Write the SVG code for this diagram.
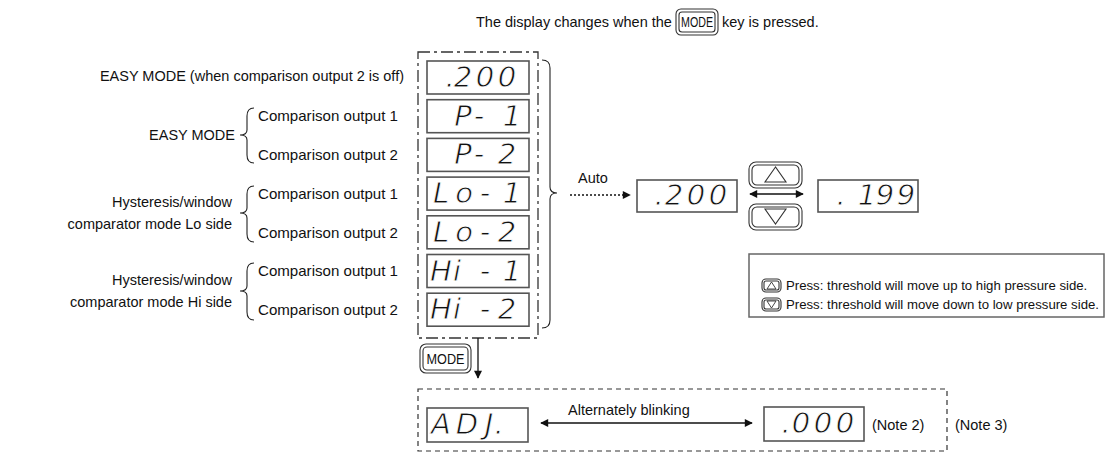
<svg xmlns="http://www.w3.org/2000/svg" width="1112" height="461" viewBox="0 0 1112 461">
<defs>
<style>
.t{font-family:"Liberation Sans",Arial,sans-serif;font-size:14.5px;fill:#111}
.c{font-family:"Liberation Sans",Arial,sans-serif;font-size:14.5px;fill:#111}
.k{font-family:"Liberation Sans",Arial,sans-serif;font-size:14px;fill:#111;text-anchor:middle}
.seg{font-family:"DejaVu Sans",sans-serif;font-size:29px;font-style:oblique;fill:#111;stroke:#fff;stroke-width:0.8;text-anchor:middle}
.box{fill:#fff;stroke:#555;stroke-width:1.6}
.ln{stroke:#111;stroke-width:1.3;fill:none}
.br{stroke:#222;stroke-width:1.1;fill:none}
.key{fill:#fff;stroke:#333;stroke-width:1.1}
.lg{font-family:"Liberation Sans",Arial,sans-serif;font-size:13.2px;fill:#111}
</style>
<marker id="ah" viewBox="0 0 10 10" refX="9" refY="5" markerWidth="10" markerHeight="8" markerUnits="userSpaceOnUse" orient="auto-start-reverse">
<path d="M0,0 L10,5 L0,10 z" fill="#111"/>
</marker>
<g id="keyshape">
<rect x="0" y="0" width="53" height="26" rx="7" class="key"/>
<rect x="3" y="3" width="47" height="20" rx="5" class="key"/>
</g>
</defs>

<g id="title">
<text class="t" x="476" y="27">The display changes when the</text>
<g id="mode-key-top">
<rect x="676" y="9" width="42" height="26" rx="5" class="key"/>
<rect x="679" y="12" width="36" height="20" rx="3" class="key"/>
<text class="k" x="697" y="27" textLength="32" lengthAdjust="spacingAndGlyphs">MODE</text>
</g>
<text class="t" x="722" y="27">key is pressed.</text>
</g>

<g id="labels">
<text class="t" x="404" y="81" text-anchor="end">EASY MODE (when comparison output 2 is off)</text>
<text class="t" x="235" y="140" text-anchor="end">EASY MODE</text>
<text class="c" x="258" y="121" textLength="140" lengthAdjust="spacingAndGlyphs">Comparison output 1</text>
<text class="c" x="258" y="160" textLength="140" lengthAdjust="spacingAndGlyphs">Comparison output 2</text>
<text class="t" x="232" y="207" text-anchor="end">Hysteresis/window</text>
<text class="t" x="232" y="229" text-anchor="end">comparator mode Lo side</text>
<text class="c" x="258" y="199" textLength="140" lengthAdjust="spacingAndGlyphs">Comparison output 1</text>
<text class="c" x="258" y="238" textLength="140" lengthAdjust="spacingAndGlyphs">Comparison output 2</text>
<text class="t" x="232" y="285" text-anchor="end">Hysteresis/window</text>
<text class="t" x="232" y="307" text-anchor="end">comparator mode Hi side</text>
<text class="c" x="258" y="276" textLength="140" lengthAdjust="spacingAndGlyphs">Comparison output 1</text>
<text class="c" x="258" y="315" textLength="140" lengthAdjust="spacingAndGlyphs">Comparison output 2</text>
<path class="br" d="M254,108 Q247,108 247,116 L247,130 Q247,135 240,135 Q247,135 247,140 L247,155 Q247,163 254,163"/>
<path class="br" d="M254,186 Q247,186 247,194 L247,208 Q247,213 240,213 Q247,213 247,218 L247,234 Q247,242 254,242"/>
<path class="br" d="M254,263 Q247,263 247,271 L247,286 Q247,291 240,291 Q247,291 247,296 L247,312 Q247,320 254,320"/>
</g>

<g id="display-column">
<rect x="418" y="52" width="120" height="286" fill="none" stroke="#333" stroke-width="1.3" stroke-dasharray="12 4 3 4"/>
<g id="d-200">
<rect class="box" x="427" y="61" width="102" height="33"/>
<text class="seg" x="450 463 485 507" y="87">.200</text>
</g>
<g id="d-p1">
<rect class="box" x="427" y="99.7" width="102" height="33"/>
<text class="seg" x="463 479 512" y="125.7">P-1</text>
</g>
<g id="d-p2">
<rect class="box" x="427" y="138.4" width="102" height="33"/>
<text class="seg" x="463 479 507" y="164.4">P-2</text>
</g>
<g id="d-lo1">
<rect class="box" x="427" y="177.1" width="102" height="33"/>
<text class="seg" x="441 464 485 512" y="203.1">Lo-1</text>
</g>
<g id="d-lo2">
<rect class="box" x="427" y="215.8" width="102" height="33"/>
<text class="seg" x="441 464 485 507" y="241.8">Lo-2</text>
</g>
<g id="d-hi1">
<rect class="box" x="427" y="254.5" width="102" height="33"/>
<text class="seg" x="441 457 485 512" y="280.5">Hi-1</text>
</g>
<g id="d-hi2">
<rect class="box" x="427" y="293.2" width="102" height="33"/>
<text class="seg" x="441 457 485 507" y="319.2">Hi-2</text>
</g>
</g>

<g id="brace-right">
<path class="br" d="M542,60 Q550,60 550,68 L550,187 Q550,193 557,193 Q550,193 550,199 L550,320 Q550,328 542,328"/>
</g>

<g id="auto-display">
<rect class="box" x="637" y="180" width="100" height="32"/>
<text class="seg" x="659 674 696 718" y="205">.200</text>
</g>

<g id="up-key">
<use href="#keyshape" x="749" y="162"/>
<path d="M775.5,167 L765,182 L786,182 z" fill="none" stroke="#333" stroke-width="1.1"/>
</g>
<g id="down-key">
<use href="#keyshape" x="749" y="204"/>
<path d="M765,209 L786,209 L775.5,224 z" fill="none" stroke="#333" stroke-width="1.1"/>
</g>

<g id="display-199">
<rect class="box" x="818" y="180" width="100" height="32"/>
<text class="seg" x="841 867 885 906" y="205">.199</text>
</g>

<g id="legend">
<rect x="749" y="254" width="355" height="63" fill="#fff" stroke="#666" stroke-width="1.5"/>
<g id="legend-up">
<rect x="762" y="279" width="19" height="13" rx="4" class="key"/>
<rect x="764" y="281" width="15" height="9" rx="2" class="key"/>
<path d="M771.5,282 L767,289 L776,289 z" fill="none" stroke="#333" stroke-width="0.9"/>
</g>
<g id="legend-down">
<rect x="762" y="298" width="19" height="13" rx="4" class="key"/>
<rect x="764" y="300" width="15" height="9" rx="2" class="key"/>
<path d="M767,301 L776,301 L771.5,308 z" fill="none" stroke="#333" stroke-width="0.9"/>
</g>
<text class="lg" x="786" y="290">Press: threshold will move up to high pressure side.</text>
<text class="lg" x="786" y="309">Press: threshold will move down to low pressure side.</text>
</g>

<g id="adjust-box">
<rect x="418" y="389" width="529" height="62" fill="none" stroke="#333" stroke-width="1.2" stroke-dasharray="5 4"/>
<g id="d-adj">
<rect class="box" x="427" y="408" width="101" height="34"/>
<text class="seg" x="441 467 489 499" y="434">ADJ.</text>
</g>
<text class="t" x="568" y="415">Alternately blinking</text>
<g id="d-000">
<rect class="box" x="764" y="407" width="100" height="34"/>
<text class="seg" x="786 801 823 845" y="433">.000</text>
</g>
<text class="t" x="872" y="430">(Note 2)</text>
</g>
<text class="t" x="955" y="430">(Note 3)</text>

<g id="mode-key-bottom">
<rect x="420" y="344" width="51" height="29" rx="6" class="key"/>
<rect x="423" y="347" width="45" height="23" rx="4" class="key"/>
<text class="k" x="445.5" y="364" textLength="38" lengthAdjust="spacingAndGlyphs">MODE</text>
</g>

<g id="connectors">
<line class="ln" x1="570" y1="195" x2="630" y2="195" stroke-dasharray="2 2" marker-end="url(#ah)"/>
<text class="t" x="578" y="183">Auto</text>
<line class="ln" x1="750" y1="194" x2="803" y2="194" marker-start="url(#ah)" marker-end="url(#ah)"/>
<line class="ln" x1="478" y1="338" x2="478" y2="378" marker-end="url(#ah)"/>
<line class="ln" x1="541" y1="423" x2="752" y2="423" marker-start="url(#ah)" marker-end="url(#ah)"/>
</g>
</svg>
